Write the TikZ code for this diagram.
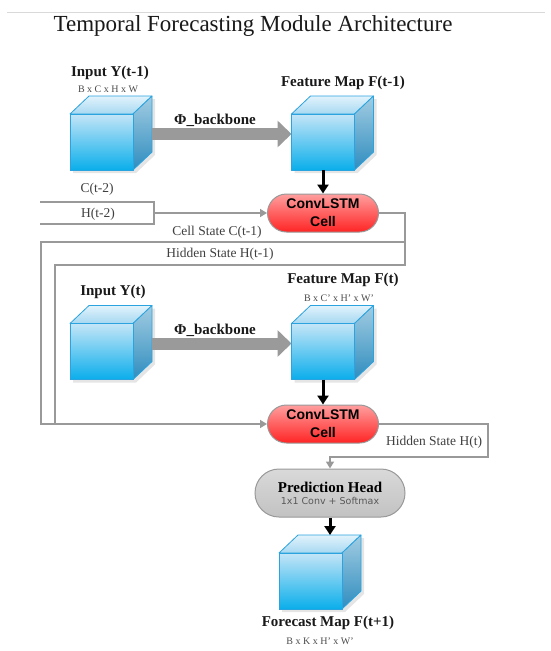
\documentclass[tikz,border=0pt]{standalone}
\usepackage{fontspec}
\setmainfont{Liberation Serif}
\newfontfamily\sansf{Liberation Sans}
\newfontfamily\dvsans{DejaVu Sans}
\usetikzlibrary{arrows.meta,calc}
\definecolor{linegray}{HTML}{999999}
\definecolor{arrowgray}{HTML}{9A9A9A}
\definecolor{cubeedge}{HTML}{2AA3DE}
\definecolor{fronttop}{HTML}{C4E5F7}
\definecolor{frontbot}{HTML}{0AAEEB}
\definecolor{toptop}{HTML}{E2F3FC}
\definecolor{topbot}{HTML}{A6D8F1}
\definecolor{sidetop}{HTML}{A2CCE2}
\definecolor{sidebot}{HTML}{2F8DBF}
\definecolor{lstmtop}{HTML}{FF9E9E}
\definecolor{lstmbot}{HTML}{FF2424}
\definecolor{headtop}{HTML}{D9D9D9}
\definecolor{headbot}{HTML}{C2C2C2}
\tikzset{
  lbl/.style={font=\fontsize{15}{18}\selectfont\bfseries, text=black!90, inner sep=0pt},
  dimlbl/.style={font=\fontsize{10}{12}\selectfont, text=black!70, inner sep=0pt},
  statelbl/.style={font=\fontsize{13.5}{16}\selectfont, text=black!75, inner sep=0pt},
  cubefront/.style={minimum width=63pt, minimum height=56pt, inner sep=0pt, outer sep=0pt},
  lstm/.style={rounded corners=19pt, minimum width=111pt, minimum height=38pt,
    top color=lstmtop, bottom color=lstmbot, draw=linegray, line width=1pt,
    font=\sansf\bfseries\fontsize{14}{18}\selectfont, align=center, inner sep=0pt},
  headbox/.style={rounded corners=24pt, minimum width=150pt, minimum height=48pt,
    top color=headtop, bottom color=headbot, draw=linegray, line width=1pt,
    align=center, inner sep=0pt},
  glink/.style={draw=linegray, line width=1.5pt},
  gtip/.style={-{Triangle[width=8pt,length=7pt]}},
  blk/.style={draw=black, line width=3pt, -{Triangle[width=11pt,length=9pt]}},
  bigarrow/.style={draw=arrowgray, fill=arrowgray, line width=12pt, -{Triangle[width=26pt,length=14pt]}},
  faceedge/.style={draw=cubeedge, line width=0.8pt, line join=round},
  cubeshadow/.style={fill=black, opacity=0.10},
}
\newcommand{\drawcube}[1]{%
  \fill[cubeshadow] ([shift={(3,3)}]#1.north west) -- ++(19,-18) -- ++(63,0) -- ++(0,56)
    -- ([shift={(3,3)}]#1.south east) -- ([shift={(3,3)}]#1.south west) -- cycle;
  \shade[top color=toptop, bottom color=topbot, faceedge]
    (#1.north west) -- ++(19,-18) -- ++(63,0) -- (#1.north east) -- cycle;
  \shade[top color=sidetop, bottom color=sidebot, faceedge]
    (#1.north east) -- ++(19,-18) -- ++(0,56) -- (#1.south east) -- cycle;
  \shade[top color=fronttop, bottom color=frontbot, faceedge]
    (#1.north west) rectangle (#1.south east);
}
\begin{document}
\begin{tikzpicture}[x=1pt,y=-1pt]
\useasboundingbox (0,0) rectangle (550,651);
\fill[white] (0,0) rectangle (550,651);
\draw[black!15, line width=1pt] (7,12) -- (545,12);

\node[font=\fontsize{23}{26}\selectfont, text=black!90, inner sep=0pt] (title) at (253,26) {Temporal Forecasting Module Architecture};

% cubes
\node[cubefront] (c1) at (101.5,142) {};
\node[cubefront] (c2) at (323,142) {};
\node[cubefront] (c3) at (101.5,351.5) {};
\node[cubefront] (c4) at (323,351.5) {};
\node[cubefront] (c5) at (310.5,581) {};
\drawcube{c1}\drawcube{c2}\drawcube{c3}\drawcube{c4}\drawcube{c5}

% labels over cubes
\node[lbl] (in1) at (110,73) {Input Y(t-1)};
\node[dimlbl] (dim1) at (108,89) {B x C x H x W};
\node[lbl] (fm1) at (343,83) {Feature Map F(t-1)};
\node[lbl] (in2) at (113,292) {Input Y(t)};
\node[lbl] (fm2) at (343,280) {Feature Map F(t)};
\node[dimlbl] (dim2) at (339,298) {B x C' x H' x W'};
\node[lbl] (fc) at (328,623) {Forecast Map F(t+1)};
\node[dimlbl] (dim3) at (320,641) {B x K x H' x W'};

% backbone arrows
\draw[bigarrow] ([xshift=19pt,yshift=8pt]c1.east) -- ([yshift=8pt]c2.west);
\draw[bigarrow] ([xshift=19pt,yshift=8pt]c3.east) -- ([yshift=8pt]c4.west);
\node[lbl] (phi1) at (215,120) {Φ\_backbone};
\node[lbl] (phi2) at (215,330) {Φ\_backbone};

% ConvLSTM cells and head
\node[lstm] (cl1) at (323,213) {ConvLSTM\\Cell};
\node[lstm] (cl2) at (323,424) {ConvLSTM\\Cell};
\node[headbox] (ph) at (330,493) {{\bfseries\fontsize{15}{18}\selectfont Prediction Head}\\[0pt]{\dvsans\fontsize{9.5}{11}\selectfont\color{black!65}1x1 Conv + Softmax}};

% black arrows
\draw[blk] (c2.south) -- (cl1.north);
\draw[blk] (c4.south) -- (cl2.north);
\coordinate (c5t) at ([yshift=18pt]c5.north);
\draw[blk] (ph.south) -- (ph.south |- c5t);

% previous states bracket
\coordinate (b1) at (40,202);
\coordinate (bm) at (154,213);
\coordinate (b2) at (40,224);
\draw[glink] (b1) -| (bm) |- (b2);
\draw[glink,gtip] (bm) -- (cl1.west);
\node[statelbl] (ct2) at (97,189) {C(t-2)};
\node[statelbl] (ht2) at (98,214) {H(t-2)};

% state loops
\coordinate (r1) at (405,265);
\coordinate (rm) at (405,242);
\coordinate (l1) at (41,424);
\coordinate (l2) at (55,424);
\draw[glink] (cl1.east) -| (r1) -| (l2);
\draw[glink,gtip] (rm) -| (l1) -- (cl2.west);
\node[statelbl] (cs1) at (217,232) {Cell State C(t-1)};
\node[statelbl] (hs1) at (220,254) {Hidden State H(t-1)};

% hidden state to head
\coordinate (hr) at (488,457);
\draw[glink,gtip] (cl2.east) -| (hr) -| (ph.north);
\node[statelbl] (hst) at (434,442) {Hidden State H(t)};
\end{tikzpicture}
\end{document}
